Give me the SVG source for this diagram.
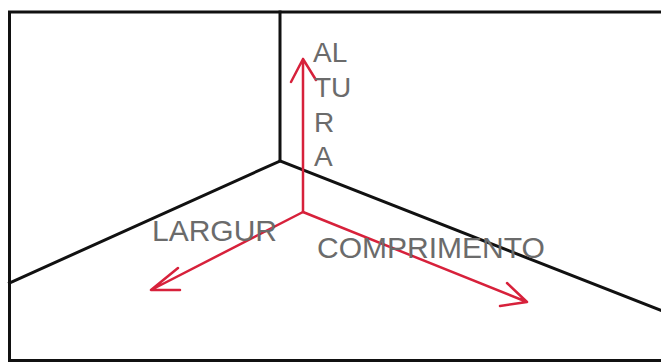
<svg xmlns="http://www.w3.org/2000/svg" width="661" height="363" viewBox="0 0 661 363">
<style>
.edge{fill:none;stroke:#111;stroke-width:3;stroke-linecap:square}
.axis{fill:none;stroke:#d7213b;stroke-width:2.5;stroke-linecap:round;stroke-linejoin:round}
.lbl{font-family:"Liberation Sans",Arial,sans-serif;fill:#6b6b6b}
</style>
<rect width="661" height="363" fill="#fff"/>
<g id="room">
<path class="edge" d="M 665 12 L 9.5 12 L 9.5 360.5 L 665 360.5"/>
<path class="edge" d="M 280 12 L 280 161 L 9.5 283"/>
<path class="edge" d="M 280 161 L 665 312"/>
</g>
<g id="connectors">
<path class="axis" d="M 303 212 L 303 59 M 291 82 L 303 59 L 316 80"/>
<path class="axis" d="M 303 212 L 151 290 M 178 268 L 151 290 L 180 290"/>
<path class="axis" d="M 303 212 L 527 302 M 507 283 L 527 302 L 500 306"/>
</g>
<g id="altura">
<text class="lbl" x="313" y="62" font-size="28">AL</text>
<text class="lbl" x="314" y="97" font-size="28">TU</text>
<text class="lbl" x="314" y="132" font-size="28">R</text>
<text class="lbl" x="314" y="166" font-size="28">A</text>
</g>
<g id="largura">
<text class="lbl" x="152" y="241" font-size="30">LARGUR</text>
</g>
<g id="comprimento">
<text class="lbl" x="317" y="258" font-size="30">COMPRIMENTO</text>
</g>
</svg>
